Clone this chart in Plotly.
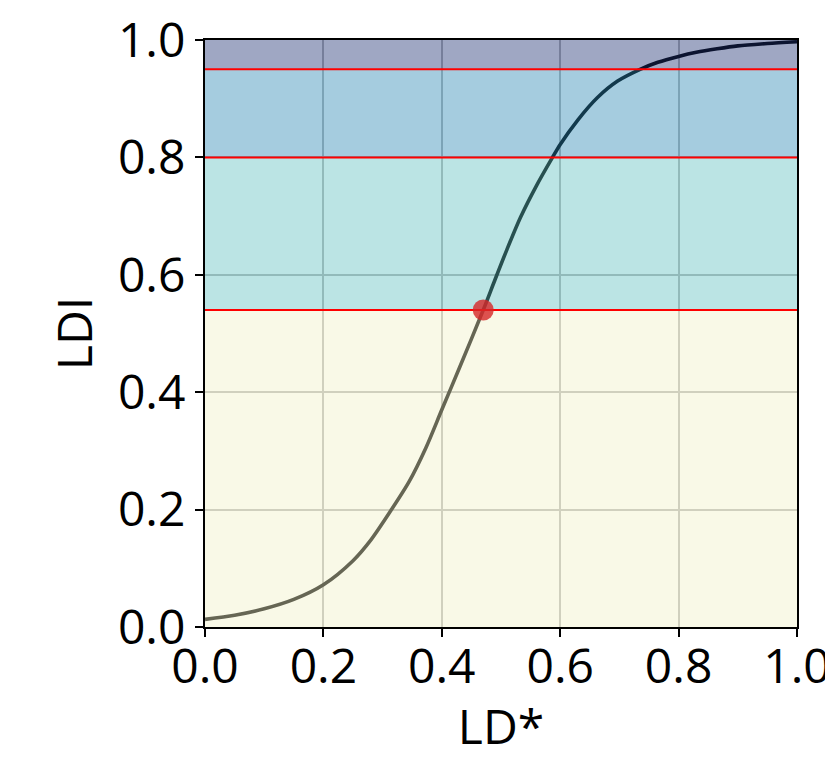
import plotly.graph_objects as go

# Curve (LD* -> LDI)
ld_star = [0.00, 0.05, 0.10, 0.15, 0.20, 0.25, 0.28, 0.315, 0.345, 0.373, 0.40, 0.43,
           0.47, 0.49, 0.51, 0.533, 0.56, 0.587, 0.60, 0.63, 0.663, 0.697, 0.735,
           0.765, 0.80, 0.83, 0.865, 0.90, 0.95, 1.00]
ldi = [0.013, 0.020, 0.031, 0.047, 0.072, 0.113, 0.148, 0.200, 0.248, 0.305, 0.370, 0.442,
       0.540, 0.592, 0.643, 0.698, 0.752, 0.800, 0.822, 0.864, 0.902, 0.930, 0.950,
       0.962, 0.972, 0.979, 0.985, 0.990, 0.994, 0.997]

# Band thresholds (red lines at the inner ones)
thresholds = [0.0, 0.54, 0.80, 0.95, 1.0]
band_colors = ["rgb(243,243,200)", "rgb(95,191,191)", "rgb(43,136,181)", "rgb(29,48,114)"]
red_lines = [0.54, 0.80, 0.95]

# Highlighted point
point_x = [0.47]
point_y = [0.54]

tick_vals = [0.0, 0.2, 0.4, 0.6, 0.8, 1.0]
tick_text = ["0.0", "0.2", "0.4", "0.6", "0.8", "1.0"]

x_title = "LD*"
y_title = "LDI"

FONT = "Open Sans"
FS = 48

fig = go.Figure()

# curve (underneath translucent bands)
fig.add_trace(go.Scatter(x=ld_star, y=ldi, mode="lines",
                         line=dict(color="black", width=3.6, shape="spline", smoothing=0.8),
                         hoverinfo="skip", showlegend=False, cliponaxis=True))

# translucent bands over the curve
for lo, hi, col in zip(thresholds[:-1], thresholds[1:], band_colors):
    fig.add_trace(go.Scatter(x=[0, 1, 1, 0, 0], y=[lo, lo, hi, hi, lo], mode="lines",
                             fill="toself", fillcolor=col, opacity=0.42,
                             line=dict(width=0, color=col),
                             hoverinfo="skip", showlegend=False))

# red threshold lines
for t in red_lines:
    fig.add_trace(go.Scatter(x=[0, 1], y=[t, t], mode="lines",
                             line=dict(color="red", width=2),
                             hoverinfo="skip", showlegend=False))

# highlighted point
fig.add_trace(go.Scatter(x=point_x, y=point_y, mode="markers",
                         marker=dict(size=21, color="rgba(214,39,40,0.8)", line=dict(width=0)),
                         hoverinfo="skip", showlegend=False, cliponaxis=False))

axis_common = dict(
    range=[0, 1], tickvals=tick_vals, ticktext=tick_text,
    showline=True, mirror=True, linecolor="black", linewidth=2,
    ticks="outside", ticklen=8, tickwidth=2, tickcolor="black",
    showgrid=True, gridcolor="#b8b8b8", gridwidth=2,
    zeroline=False, layer="below traces",
    tickfont=dict(family=FONT, size=FS, color="black"),
    automargin=False, ticklabeloverflow="allow",
)

fig.update_layout(
    width=825, height=750,
    margin=dict(l=197, r=36, t=32, b=131),
    paper_bgcolor="white", plot_bgcolor="white",
    xaxis=dict(**axis_common, ticklabelstandoff=-12,
               title=dict(text=x_title, standoff=0,
                          font=dict(family=FONT, size=FS, color="black"))),
    yaxis=dict(**axis_common,
               title=dict(text=y_title, standoff=10,
                          font=dict(family=FONT, size=FS, color="black"))),
    showlegend=False,
)

fig.write_html("out.html")
